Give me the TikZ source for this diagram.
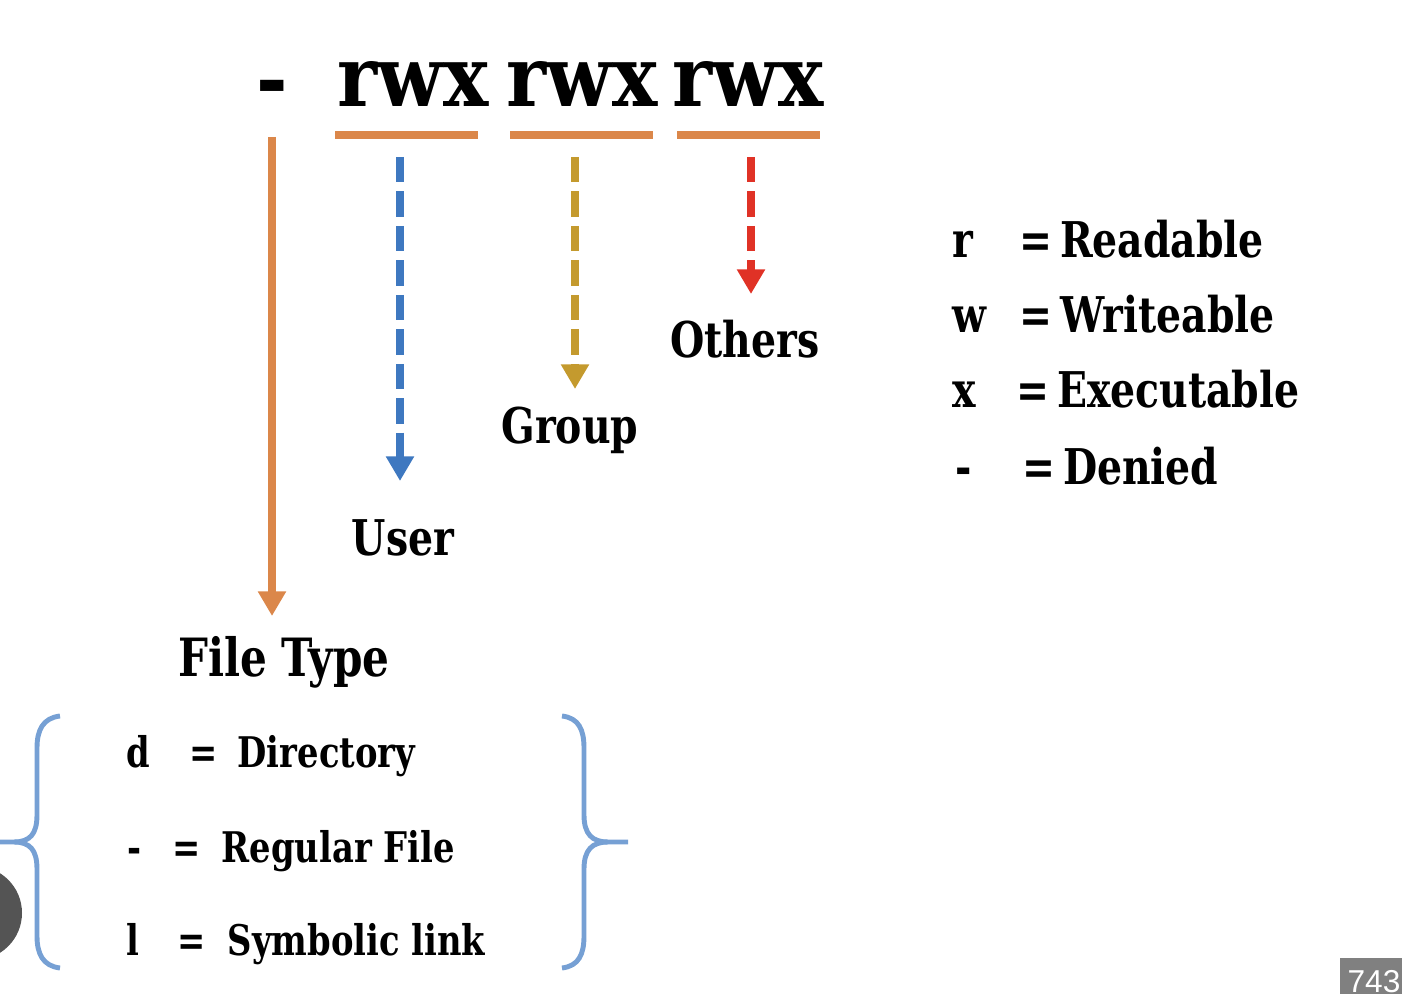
\documentclass[tikz,border=0pt]{standalone}
\usepackage{fontspec}
\setmainfont{DejaVu Serif}[FakeStretch=0.8]
\newfontfamily\permfont{DejaVu Serif}[FakeStretch=0.9]
\newfontfamily\badgefont{Liberation Sans}
\usetikzlibrary{arrows.meta}
\definecolor{ftorange}{RGB}{219,135,74}
\definecolor{userblue}{RGB}{62,120,192}
\definecolor{groupgold}{RGB}{196,154,46}
\definecolor{othersred}{RGB}{224,50,38}
\definecolor{bracecol}{RGB}{118,160,212}
\newcommand{\eqto}{=\kern-1.8pt\ }

\begin{document}
\begin{tikzpicture}[x=0.01cm, y=-0.01cm,
    perm/.style={font=\permfont\bfseries\fontsize{24}{28}\selectfont, inner sep=0, anchor=base west},
    who/.style={font=\bfseries\fontsize{14}{17}\selectfont, inner sep=0, anchor=base},
    key/.style={font=\bfseries\fontsize{14}{17}\selectfont, inner sep=0, anchor=base west},
    ftkey/.style={font=\bfseries\fontsize{12}{14}\selectfont, inner sep=0, anchor=base west},
    bar/.style={ftorange, line width=2.3pt},
    arr/.style={line width=2.2pt, -{Triangle[width=7.6pt, length=7pt]}},
    dash arr/.style={arr, dash pattern=on 7.2pt off 2.6pt},
    brace/.style={bracecol, line width=1.4pt}]
    \useasboundingbox (0, 0) rectangle (1402, 994);
    \clip (0, 0) rectangle (1402, 994);

    % permission string
    \node[perm, anchor=base] (type) at (272, 109) {-};
    \node[perm] (usr) at (337, 107) {rwx};
    \node[perm] (grp) at (506, 107) {rwx};
    \node[perm] (oth) at (672, 107) {rwx};
    \draw[bar] (335, 135) -- (478, 135);
    \draw[bar] (510, 135) -- (653, 135);
    \draw[bar] (677, 135) -- (820, 135);

    % arrows to the labels
    \coordinate (typeTop) at (272, 137);  \coordinate (typeTip) at (272, 616);
    \coordinate (usrTop) at (400, 157);   \coordinate (usrTip) at (400, 481);
    \coordinate (grpTop) at (575, 157);   \coordinate (grpTip) at (575, 389);
    \coordinate (othTop) at (751, 157);   \coordinate (othTip) at (751, 294);
    \draw[arr, ftorange] (typeTop) -- (typeTip);
    \draw[dash arr, userblue] (usrTop) -- (usrTip);
    \draw[dash arr, groupgold] (grpTop) -- (grpTip);
    \draw[dash arr, othersred] (othTop) -- (othTip);

    \node[who] (others) at (745, 358) {Others};
    \node[who] (group) at (570, 444) {Group};
    \node[who] (user) at (403, 556) {User};
    \node[who, font=\bfseries\fontsize{15}{18}\selectfont] (filetype) at (284, 676) {File Type};

    % meaning of the letters
    \node[key] (kr) at (952, 258) {r};
    \node[key] (kw) at (952, 333) {w};
    \node[key] (kx) at (952, 408) {x};
    \node[key] (kd) at (955, 485) {-};
    \node[key] (vr) at (1019, 258) {\eqto Readable};
    \node[key] (vw) at (1019, 333) {\eqto Writeable};
    \node[key] (vx) at (1016, 408) {\eqto Executable};
    \node[key] (vd) at (1022, 485) {\eqto Denied};

    % file types
    \node[ftkey] (fd) at (126, 767) {d};
    \node[ftkey] (fr) at (127, 862) {-};
    \node[ftkey] (fl) at (126, 955) {l};
    \node[ftkey] (ed) at (189, 767) {=};
    \node[ftkey] (er) at (172, 862) {=};
    \node[ftkey] (el) at (177, 955) {=};
    \node[ftkey] (td) at (237, 767) {Directory};
    \node[ftkey] (tr) at (221, 862) {Regular File};
    \node[ftkey] (tl) at (227, 955) {Symbolic link};

    \draw[brace] (60, 716) .. controls (43, 718) and (37, 730) .. (37, 748) -- (37, 815)
        .. controls (37, 834) and (30, 842) .. (14, 842) -- (0, 842);
    \draw[brace] (60, 968) .. controls (43, 966) and (37, 954) .. (37, 936) -- (37, 869)
        .. controls (37, 850) and (30, 842) .. (14, 842);
    \draw[brace] (562, 716) .. controls (579, 718) and (584, 730) .. (584, 748) -- (584, 815)
        .. controls (584, 834) and (592, 842) .. (608, 842) -- (628, 842);
    \draw[brace] (562, 968) .. controls (579, 966) and (584, 954) .. (584, 936) -- (584, 869)
        .. controls (584, 850) and (592, 842) .. (608, 842);

    % player overlay
    \fill[black!67] (-25, 913) circle (47);
    \fill[black!50] (1340, 958) rectangle (1402, 1000);
    \node[white, font=\badgefont\fontsize{9}{11}\selectfont, inner sep=0, anchor=base] (frame) at (1374, 992) {743};
\end{tikzpicture}
\end{document}
